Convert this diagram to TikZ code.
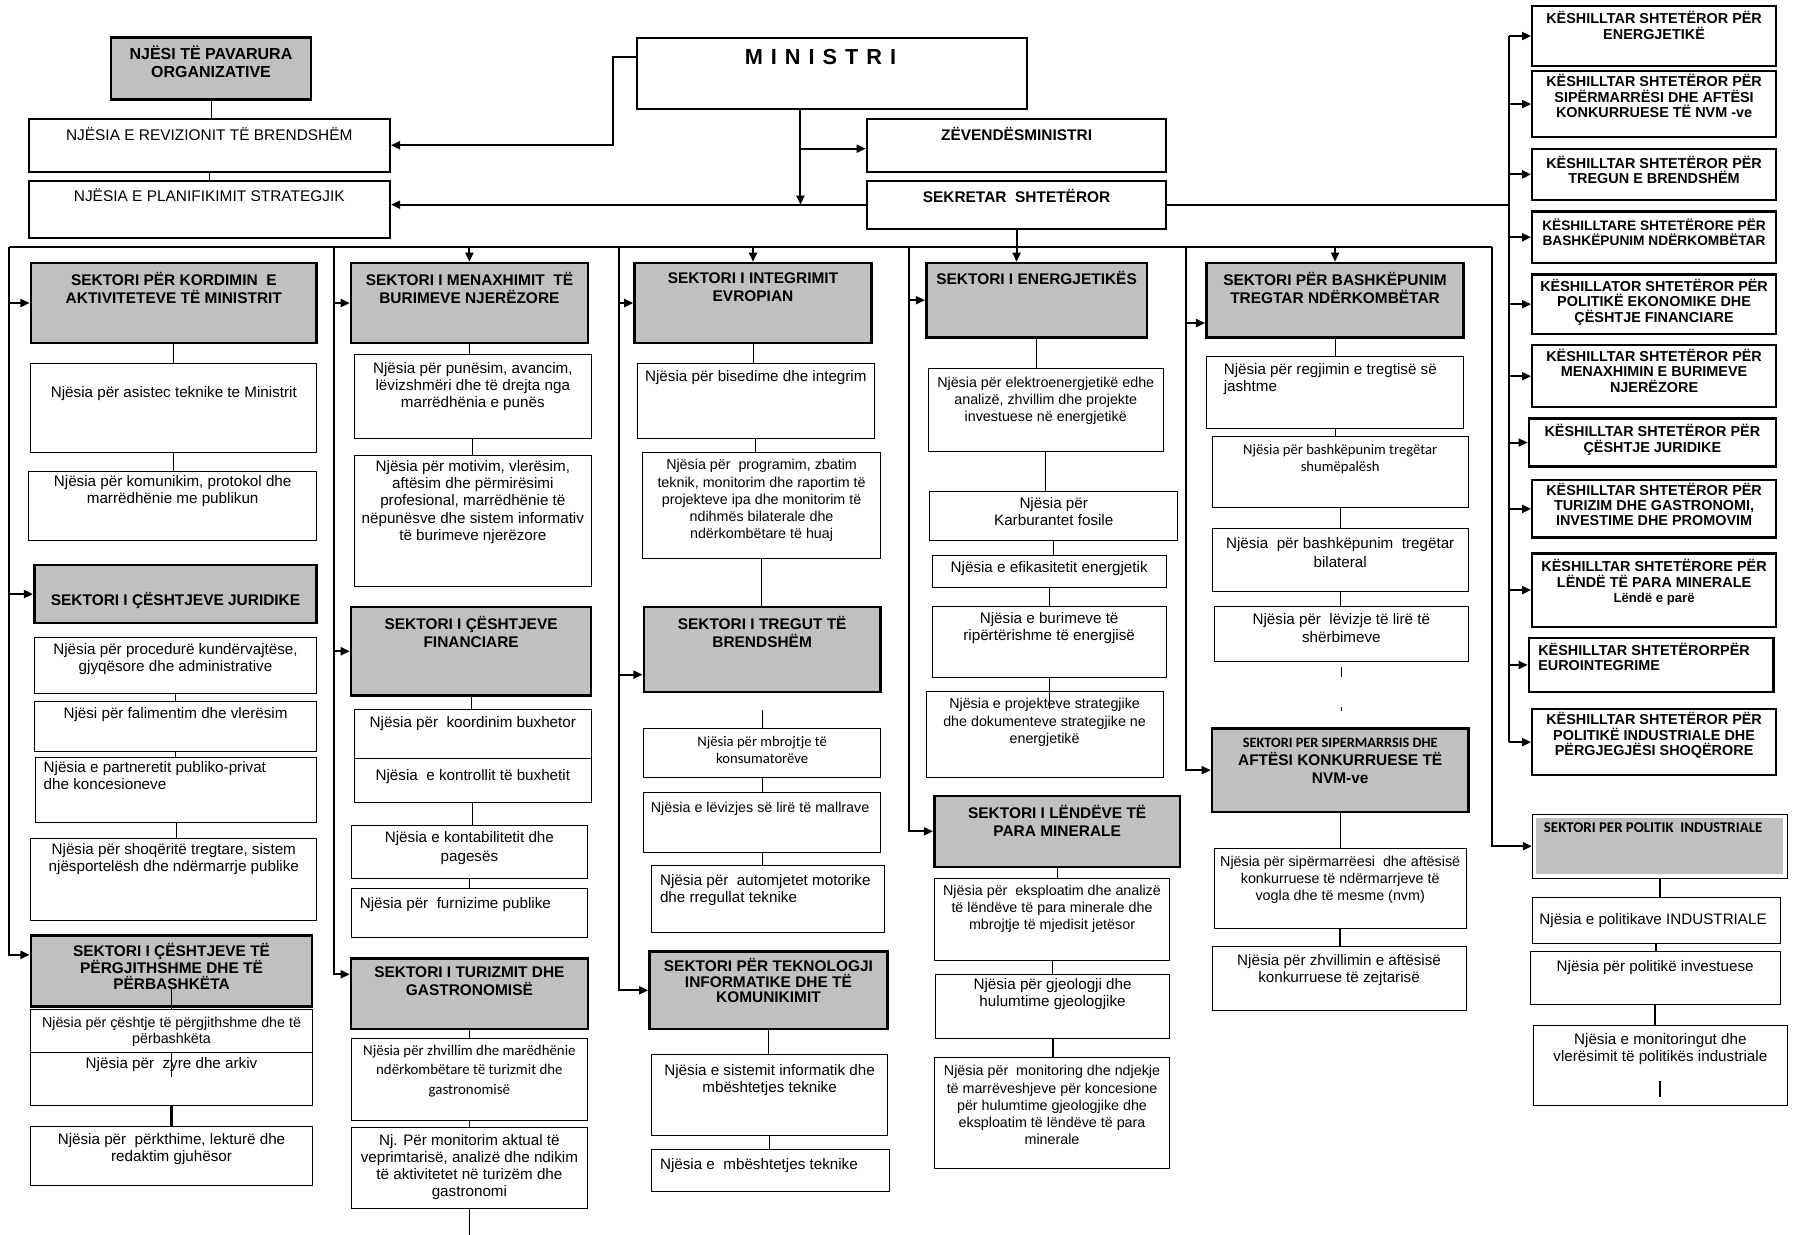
\documentclass[tikz,border=0pt]{standalone}
\usepackage{fontspec}
\setmainfont{Liberation Sans}
\newfontfamily\clbfam{Carlito}
\usetikzlibrary{arrows.meta}
\definecolor{secgray}{RGB}{192,192,192}
\newcommand{\unitfont}{\fontsize{13.3}{15}\selectfont}
\newcommand{\smallunitfont}{\fontsize{12.5}{15}\selectfont}
\newcommand{\headfont}{\bfseries\fontsize{13.5}{16}\selectfont}
\newcommand{\advfont}{\bfseries\fontsize{12.6}{13.5}\selectfont}
\newcommand{\bx}[8]{%
  \node[#1, minimum width={#5-#3}, minimum height={#6-#4}] (#2) at ({(#3+#5)/2},{(#4+#6)/2}) {};
  \node[#7] (#2t) at (#2.north) {#8};}
\tikzset{
  unit/.style={draw, line width=0.7pt, fill=white, inner sep=0pt},
  mbox/.style={unit, line width=1.8pt},
  sec/.style={draw, line width=2.2pt, fill=secgray, inner sep=0pt},
  adv/.style={unit, line width=2pt},
  txt/.style={anchor=north, align=center, inner sep=0pt, yshift=-#1pt, font=\unitfont},
  stxt/.style={txt=#1, font=\smallunitfont},
  ltxt/.style={txt=#1, anchor=north west, align=left},
  ctxt/.style={txt=#1, font=\clbfam\fontsize{13}{16}\selectfont},
  htxt/.style={txt=#1, font=\headfont},
  atxt/.style={txt=#1, font=\advfont},
  conn/.style={line width=0.7pt},
  bus/.style={line width=1.8pt},
  arr/.style={bus, -{Triangle[length=8pt,width=7pt]}},
}
\begin{document}
\begin{tikzpicture}[x=1pt,y=-1pt]
\useasboundingbox (0,0) rectangle (1568,1080);

\bx{sec}{pav}{97}{33}{272}{87}{htxt=8, font=\bfseries\fontsize{14}{16}\selectfont}{NJËSI TË PAVARURA\\ORGANIZATIVE}
\bx{mbox}{rev}{25}{104}{341}{150}{txt=8, font=\fontsize{13.5}{16}\selectfont}{NJËSIA E REVIZIONIT TË BRENDSHËM}
\bx{mbox}{plan}{25}{158}{341}{208}{txt=8, font=\fontsize{13.5}{16}\selectfont}{NJËSIA E PLANIFIKIMIT STRATEGJIK}
\bx{mbox}{min}{557}{33}{898}{95}{htxt=11, xshift=-10pt, font=\bfseries\fontsize{19}{22}\selectfont}{M\kern7pt I\kern7pt N\kern7pt I\kern7pt S\kern7pt T\kern7pt R\kern7pt I}
\bx{mbox}{zev}{758}{104}{1020}{150}{htxt=8}{ZËVENDËSMINISTRI}
\bx{mbox}{sek}{758}{158}{1020}{200}{htxt=8}{SEKRETAR \ SHTETËROR}

\bx{adv}{a1}{1340}{5}{1553}{58}{atxt=6}{KËSHILLTAR SHTETËROR PËR\\ENERGJETIKË}
\bx{adv}{a2}{1340}{62}{1553}{120}{atxt=4}{KËSHILLTAR SHTETËROR PËR\\SIPËRMARRËSI DHE AFTËSI\\KONKURRUESE TË NVM -ve}
\bx{adv}{a3}{1340}{130}{1553}{175}{atxt=7}{KËSHILLTAR SHTETËROR PËR\\TREGUN E BRENDSHËM}
\bx{adv}{a4}{1340}{185}{1553}{230}{atxt=7, font=\bfseries\fontsize{12}{13.5}\selectfont}{KËSHILLTARE SHTETËRORE PËR\\BASHKËPUNIM NDËRKOMBËTAR}
\bx{adv}{a5}{1340}{240}{1553}{292}{atxt=5}{KËSHILLATOR SHTETËROR PËR\\POLITIKË EKONOMIKE DHE\\ÇËSHTJE FINANCIARE}
\bx{adv}{a6}{1340}{302}{1553}{356}{atxt=4}{KËSHILLTAR SHTETËROR PËR\\MENAXHIMIN E BURIMEVE\\NJERËZORE}
\bx{adv}{a7}{1337}{366}{1553}{408}{atxt=6}{KËSHILLTAR SHTETËROR PËR\\ÇËSHTJE JURIDIKE}
\bx{adv}{a8}{1340}{420}{1553}{470}{atxt=3}{KËSHILLTAR SHTETËROR PËR\\TURIZIM DHE GASTRONOMI,\\INVESTIME DHE PROMOVIM}
\bx{adv}{a9}{1340}{484}{1553}{548}{atxt=6}{KËSHILLTAR SHTETËRORE PËR\\LËNDË TË PARA MINERALE\\{\fontsize{11.5}{13}\selectfont Lëndë e parë}}
\bx{adv}{a10}{1337}{558}{1551}{605}{atxt=5, anchor=north west, align=left, xshift=-99pt}{KËSHILLTAR SHTETËRORPËR\\EUROINTEGRIME}
\bx{adv}{a11}{1340}{620}{1553}{678}{atxt=4}{KËSHILLTAR SHTETËROR PËR\\POLITIKË INDUSTRIALE DHE\\PËRGJEGJËSI SHOQËRORE}

\bx{sec}{s11}{27}{230}{277}{300}{htxt=9}{SEKTORI PËR KORDIMIN \ E\\AKTIVITETEVE TË MINISTRIT}
\bx{unit}{u11}{27}{318}{277}{396}{txt=20}{Njësia për asistec teknike te Ministrit}
\bx{unit}{u12}{25}{412}{277}{473}{txt=4}{Njësia për komunikim, protokol dhe\\marrëdhënie me publikun}
\bx{sec}{s12}{30}{494}{277}{545}{htxt=25}{SEKTORI I ÇËSHTJEVE JURIDIKE}
\bx{unit}{u13}{30}{557}{277}{606}{txt=6}{Njësia për procedurë kundërvajtëse,\\gjyqësore dhe administrative}
\bx{unit}{u14}{30}{613}{277}{657}{txt=6}{Njësi për falimentim dhe vlerësim}
\bx{unit}{u15}{31}{662}{277}{719}{ltxt=4, xshift=-116pt}{Njësia e partneretit publiko-privat\\dhe koncesioneve}
\bx{unit}{u16}{27}{733}{277}{805}{txt=5}{Njësia për shoqëritë tregtare, sistem\\njësportelësh dhe ndërmarrje publike}
\bx{sec}{s13}{27}{818}{273}{880}{htxt=8, font=\bfseries\fontsize{13.5}{14.5}\selectfont}{SEKTORI I ÇËSHTJEVE TË\\PËRGJITHSHME DHE TË\\PËRBASHKËTA}
\bx{unit}{u17}{27}{883}{273}{920}{stxt=7, font=\fontsize{12.5}{14}\selectfont}{Njësia për çështje të përgjithshme dhe të\\përbashkëta}
\bx{unit}{u18}{27}{920}{273}{967}{txt=5}{Njësia për \ zyre dhe arkiv}
\bx{unit}{u19}{27}{985}{273}{1037}{txt=6}{Njësia për \ përkthime, lekturë dhe\\redaktim gjuhësor}

\bx{sec}{s21}{307}{230}{514}{300}{htxt=9}{SEKTORI I MENAXHIMIT \ TË\\BURIMEVE NJERËZORE}
\bx{unit}{u21}{310}{310}{517}{383}{txt=7}{Njësia për punësim, avancim,\\lëvizshmëri dhe të drejta nga\\marrëdhënia e punës}
\bx{unit}{u22}{310}{398}{517}{513}{txt=5}{Njësia për motivim, vlerësim,\\aftësim dhe përmirësimi\\profesional, marrëdhënie të\\nëpunësve dhe sistem informativ\\të burimeve njerëzore}
\bx{sec}{s22}{307}{531}{517}{608}{htxt=9}{SEKTORI I ÇËSHTJEVE\\FINANCIARE}
\bx{unit}{u23}{310}{620}{517}{663}{txt=7}{Njësia për \ koordinim buxhetor}
\bx{unit}{u24}{310}{663}{517}{702}{txt=10}{Njësia \ e kontrollit të buxhetit}
\bx{unit}{u25}{307}{722}{514}{768}{txt=5, font=\fontsize{13.3}{17}\selectfont}{Njësia e kontabilitetit dhe\\pagesës}
\bx{unit}{u26}{307}{777}{514}{820}{ltxt=8, xshift=-96pt}{Njësia për \ furnizime publike}
\bx{sec}{s23}{307}{838}{514}{900}{htxt=8}{SEKTORI I TURIZMIT DHE\\GASTRONOMISË}
\bx{unit}{u27}{307}{908}{514}{980}{ctxt=6, font=\clbfam\fontsize{13}{17}\selectfont}{Njësia për zhvillim dhe marëdhënie\\ndërkombëtare të turizmit dhe\\gastronomisë}
\bx{unit}{u28}{307}{986}{514}{1057}{txt=6}{Nj. Për monitorim aktual të\\veprimtarisë, analizë dhe ndikim\\të aktivitetet në turizëm dhe\\gastronomi}

\bx{sec}{s31}{555}{230}{762}{300}{htxt=9}{SEKTORI I INTEGRIMIT\\EVROPIAN}
\bx{unit}{u31}{557}{318}{765}{383}{txt=6}{Njësia për bisedime dhe integrim}
\bx{unit}{u32}{562}{396}{770}{488}{stxt=6}{Njësia për \ programim, zbatim\\teknik, monitorim dhe raportim të\\projekteve ipa dhe monitorim të\\ndihmës bilaterale dhe\\ndërkombëtare të huaj}
\bx{sec}{s32}{563}{531}{770}{605}{htxt=9}{SEKTORI I TREGUT TË\\BRENDSHËM}
\bx{unit}{u33}{563}{637}{770}{680}{ctxt=7, font=\clbfam\fontsize{12.8}{15}\selectfont}{Njësia për mbrojtje të\\konsumatorëve}
\bx{unit}{u34}{563}{693}{770}{745}{ltxt=9, xshift=-97.5pt, font=\smallunitfont}{Njësia e lëvizjes së lirë të mallrave}
\bx{unit}{u35}{570}{757}{773}{815}{ltxt=8, xshift=-94.5pt}{Njësia për \ automjetet motorike\\dhe rregullat teknike}
\bx{sec}{s33}{568}{832}{776}{900}{htxt=7, font=\bfseries\fontsize{13.5}{13.5}\selectfont}{SEKTORI PËR TEKNOLOGJI\\INFORMATIKE DHE TË\\KOMUNIKIMIT}
\bx{unit}{u36}{570}{922}{776}{993}{txt=9}{Njësia e sistemit informatik dhe\\mbështetjes teknike}
\bx{unit}{u37}{570}{1005}{778}{1042}{ltxt=8, xshift=-97pt}{Njësia e \ mbështetjes teknike}

\bx{sec}{s41}{810}{230}{1003}{295}{htxt=8}{SEKTORI I ENERGJETIKËS}
\bx{unit}{u41}{812}{322}{1017}{395}{stxt=8}{Njësia për elektroenergjetikë edhe\\analizë, zhvillim dhe projekte\\investuese në energjetikë}
\bx{unit}{u42}{813}{430}{1030}{473}{txt=5}{Njësia për\\Karburantet fosile}
\bx{unit}{u43}{815}{486}{1020}{514}{txt=5}{Njësia e efikasitetit energjetik}
\bx{unit}{u44}{815}{530}{1020}{592}{txt=6}{Njësia e burimeve të\\ripërtërishme të energjisë}
\bx{unit}{u45}{810}{605}{1017}{680}{stxt=6}{Njësia e projekteve strategjike\\dhe dokumenteve strategjike ne\\energjetikë}
\bx{sec}{s42}{817}{696}{1032}{758}{htxt=9}{SEKTORI I LËNDËVE TË\\PARA MINERALE}
\bx{unit}{u46}{817}{768}{1023}{840}{stxt=6}{Njësia për \ eksploatim dhe analizë\\të lëndëve të para minerale dhe\\mbrojtje të mjedisit jetësor}
\bx{unit}{u47}{818}{852}{1023}{908}{txt=4}{Njësia për gjeologji dhe\\hulumtime gjeologjike}
\bx{unit}{u48}{817}{925}{1023}{1022}{stxt=7}{Njësia për \ monitoring dhe ndjekje\\të marrëveshjeve për koncesione\\për hulumtime gjeologjike dhe\\eksploatim të lëndëve të para\\minerale}

\bx{sec}{s51}{1055}{230}{1280}{295}{htxt=9}{SEKTORI PËR BASHKËPUNIM\\TREGTAR NDËRKOMBËTAR}
\bx{unit}{u51}{1055}{312}{1280}{375}{ltxt=6, xshift=-97.5pt}{Njësia për regjimin e tregtisë së\\jashtme}
\bx{unit}{u52}{1060}{382}{1284}{444}{ctxt=7, font=\clbfam\fontsize{12.8}{15}\selectfont}{Njësia për bashkëpunim tregëtar\\shumëpalësh}
\bx{unit}{u53}{1060}{462}{1284}{517}{txt=8, font=\fontsize{13.3}{17}\selectfont}{Njësia \ për bashkëpunim \ tregëtar\\bilateral}
\bx{unit}{u54}{1062}{530}{1284}{578}{txt=7}{Njësia për \ lëvizje të lirë të\\shërbimeve}
\bx{sec}{s52}{1060}{637}{1284}{710}{htxt=9}{{\clbfam\fontsize{12.5}{13}\selectfont SEKTORI PER SIPERMARRSIS DHE}\\AFTËSI KONKURRUESE TË\\NVM-ve}
\bx{unit}{u55}{1062}{742}{1282}{812}{stxt=7}{Njësia për sipërmarrëesi \ dhe aftësisë\\konkurruese të ndërmarrjeve të\\vogla dhe të mesme (nvm)}
\bx{unit}{u56}{1060}{828}{1282}{884}{txt=7}{Njësia për zhvillimin e aftësisë\\konkurruese të zejtarisë}

\node[unit, minimum width=223, minimum height=56] (pi) at (1451.5,740) {};
\fill[secgray] ([shift={(4,4)}]pi.north west) rectangle ([shift={(-4,-4)}]pi.south east);
\node[ctxt=8, anchor=north west, align=left, xshift=-101.5pt, font=\clbfam\bfseries\fontsize{13}{15}\selectfont] (pit) at (pi.north) {SEKTORI PER POLITIK \ INDUSTRIALE};
\bx{unit}{v1}{1340}{785}{1557}{825}{ltxt=14, xshift=-102.5pt}{Njësia e politikave INDUSTRIALE}
\bx{unit}{v2}{1338}{832}{1557}{878}{txt=8}{Njësia për politikë investuese}
\bx{unit}{v3}{1341}{897}{1563}{967}{txt=7}{Njësia e monitoringut dhe\\vlerësimit të politikës industriale}

\draw[arr] ([yshift=14pt]min.west) -- ++(-20,0) |- (rev.east);
\coordinate (mj) at (700,130);
\draw[bus] (mj |- min.south) -- (mj);
\draw[arr] (mj) -- (mj -| zev.west);
\draw[arr] (mj) -- (mj |- sek.west);
\draw[arr] (sek.west) -- (sek.west -| plan.east);

\coordinate (tr) at (1320,0);
\draw[bus] (sek.east) -- (sek.east -| tr);
\draw[bus] (a1.west -| tr) -- (a11.west -| tr);
\foreach \i in {1,...,11}
  \draw[arr] (a\i.west -| tr) -- (a\i.west);

\coordinate (bl) at (8,216);
\coordinate (fB) at (292,216);
\coordinate (fC) at (541,216);
\coordinate (fD) at (795,216);
\coordinate (fE) at (1037,216);
\coordinate (br) at (1305,216);
\coordinate (bot) at (0,1080);
\draw[bus] (bl) -- (br);
\draw[arr] (s21.north |- bl) -- (s21.north);
\draw[arr] (s31.north |- bl) -- (s31.north);
\draw[arr] (s51.north |- bl) -- (s51.north);
\draw[arr] (sek.south) -- (sek.south |- s41.north);

\path ([yshift=-22pt]s32.west) coordinate (s32in)
      ([yshift=-20pt]s51.west) coordinate (s51in);
\foreach \f/\s in {bl/s11, bl/s12, fB/s21, fB/s22, fC/s31, fD/s41}
  \draw[arr] (\f |- \s.west) -- (\s.west);
\draw[arr] (fC |- s32in) -- (s32in);
\draw[arr] (fE |- s51in) -- (s51in);
\draw[arr] (bl) |- ([yshift=14pt]s13.west);
\draw[arr] (fB) |- ([yshift=17pt]s23.west);
\draw[arr] (fC) |- (s33.west);
\draw[arr] (fD) |- (s42.west);
\draw[arr] (fE) |- (s52.west);
\draw[arr] (br) |- (pi.west);

\foreach \a/\b in {pav/rev, rev/plan, s11/u11, u11/u12, u13/u14, u14/u15, u15/u16,
    s21/u21, u21/u22, s22/u23, u24/u25, u25/u26, s23/u27, u27/u28,
    s31/u31, u31/u32, u32/s32, u33/u34, u34/u35, s33/u36, u36/u37,
    s41/u41, u41/u42, u42/u43, u43/u44, s42/u46, u46/u47,
    s51/u51, u51/u52, u52/u53, u53/u54, s52/u55}
  \draw[conn] (\a.south) -- (\a.south |- \b.north);
\foreach \a/\b in {u18/u19, u47/u48, u55/u56, pi/v1, v1/v2, v2/v3}
  \draw[bus] (\a.south) -- (\a.south |- \b.north);
\draw[conn] ([yshift=18pt]s13.south) -- (s13.south |- u17.north);
\draw[conn] (u18.north) -- ++(0,22);
\draw[conn] ([yshift=-15pt]s32.south) -- (s32.south |- u33.north);
\draw[conn] (u44.south) -- ++(0,28);
\draw[conn] (u28.south) -- (u28.south |- bot);
\draw[conn] ([yshift=-5pt]u54.south) -- ++(0,9);
\draw[conn] ([yshift=-40pt]u54.south) -- ++(0,3);
\draw[bus] ([yshift=22pt]v3.south) -- ++(0,14);
\end{tikzpicture}
\end{document}
